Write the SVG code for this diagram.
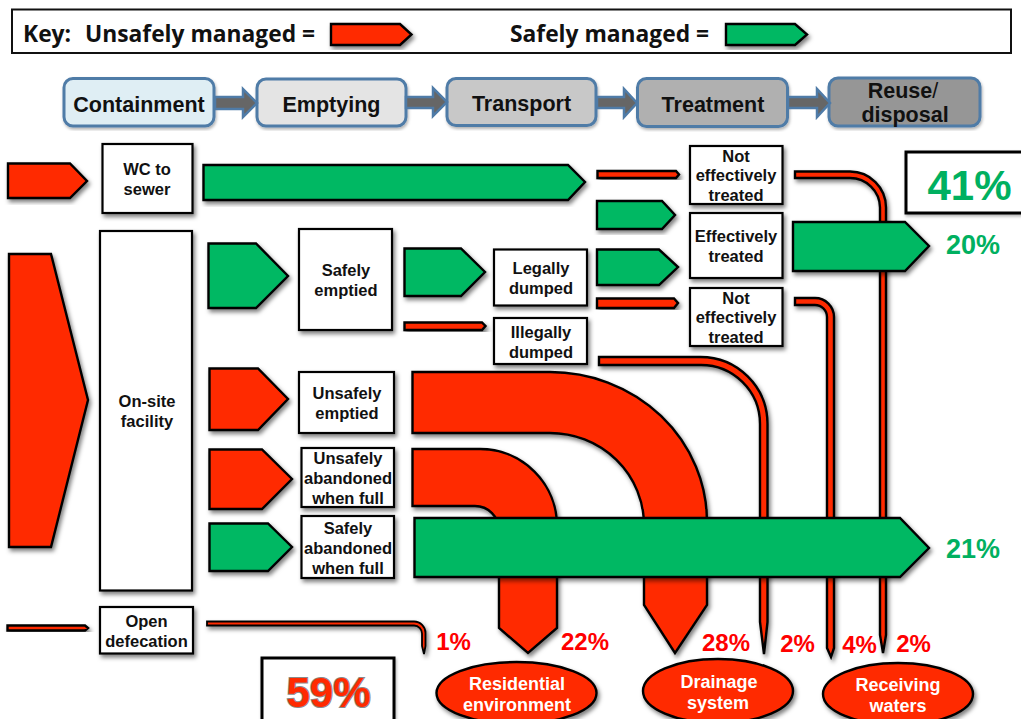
<svg xmlns="http://www.w3.org/2000/svg" width="1021" height="719" viewBox="0 0 1021 719">
<style>
text{font-family:"Liberation Sans",Arial,sans-serif;font-weight:700;text-anchor:middle;fill:#111}
.r{fill:#FF2A00;stroke:#000;stroke-width:2.4;stroke-linejoin:miter;filter:url(#s)}
.g{fill:#00B864;stroke:#000;stroke-width:2.4;filter:url(#s)}
.b{fill:#fff;stroke:#000;stroke-width:2.2;filter:url(#s)}
.b3{fill:#fff;stroke:#000;stroke-width:3;filter:url(#s2)}
.st{stroke:#4F7BA7;stroke-width:3;filter:url(#s2)}
.la{fill:#666;stroke:#4F7BA7;stroke-width:2.5}
.t{font-size:16.5px}
.h{font-size:21.5px}
.k{font-family:"Open Sans","Noto Sans",sans-serif;font-size:22.800px;text-anchor:start;font-weight:700}
.p{font-size:24px;fill:#F00}
.pg{font-size:27px;fill:#00B060}
.e{font-size:18px;fill:#fff}
</style>
<defs>
<filter id="s" x="-20%" y="-20%" width="140%" height="140%"><feDropShadow dx="2" dy="3" stdDeviation="2" flood-color="#000" flood-opacity=".5"/></filter>
<filter id="s2" x="-10%" y="-10%" width="120%" height="120%"><feDropShadow dx="1" dy="2" stdDeviation="1.5" flood-color="#000" flood-opacity=".3"/></filter>
</defs>
<g id="key">
<rect x="12" y="9.500" width="999" height="43.500" fill="#fff" stroke="#111" stroke-width="2"/>
<text class="k" x="23" y="42">Key:</text>
<text class="k" x="85" y="42">Unsafely managed =</text>
<polygon class="r" points="331,24 400,24 411.500,34.500 400,45 331,45"/>
<text class="k" x="510" y="42">Safely managed =</text>
<polygon class="g" points="726,24 795,24 807,34.500 795,45 726,45"/>
</g>
<g id="stages">
<g id="s-containment"><rect class="st" x="64" y="78.500" width="150" height="47.500" rx="9" fill="#DFEEF4"/><text class="h" x="139" y="112">Containment</text></g>
<g id="s-emptying"><rect class="st" x="257" y="79" width="149" height="47" rx="9" fill="#E4E4E4"/><text class="h" x="331.500" y="112">Emptying</text></g>
<g id="s-transport"><rect class="st" x="447" y="78.500" width="149" height="47" rx="9" fill="#C8C8C8"/><text class="h" x="521.500" y="111">Transport</text></g>
<g id="s-treatment"><rect class="st" x="637.500" y="78.500" width="150" height="48" rx="9" fill="#B0B0B0"/><text class="h" x="713" y="112">Treatment</text></g>
<g id="s-reuse"><rect class="st" x="829" y="78" width="151" height="48" rx="9" fill="#969696"/><text class="h" x="903" y="98">Reuse<tspan font-weight="400">/</tspan></text><text class="h" x="905" y="122">disposal</text></g>
</g>
<g id="connectors">
<polygon class="la" points="215,97 243,97 243,89 257,103 243,117 243,109 215,109"/>
<polygon class="la" points="406,97 433,97 433,88 447,102 433,116 433,108 406,108"/>
<polygon class="la" points="597,97 624,97 624,89 637,103 624,117 624,108 597,108"/>
<polygon class="la" points="788,97 817,97 817,89 830,103 817,117 817,108 788,108"/>

<polygon class="r" points="8,163.500 70,163.500 87,181 70,198 8,198"/>
<polygon class="r" points="9,254 51,254 88,400 51,547 9,547"/>
<polygon class="r" points="7.500,625.500 85,625.500 88,628 85,630.500 7.500,630.500"/>
<polygon class="g" points="203.500,165 568,165 585,182 568,200 203.500,200"/>
<polygon class="g" points="208.500,243.500 256,243.500 288,276 256,308 208.500,308"/>
<polygon class="r" points="209.500,368.500 258,368.500 288,399 258,430 209.500,430"/>
<polygon class="r" points="209.500,449.500 262,449.500 292,479 262,509 209.500,509"/>
<polygon class="g" points="209.500,523.500 268,523.500 292,547 268,571 209.500,571"/>
<polygon class="g" points="404.500,248.500 461,248.500 485,272 461,296 404.500,296"/>
<polygon class="r" points="404.500,322.500 482,322.500 485.500,326 482,330 404.500,330"/>
<polygon class="r" points="597.500,171 676,171 679,174.500 676,178 597.500,178"/>
<polygon class="g" points="597,201 662,201 675,215 662,229 597,229"/>
<polygon class="g" points="597,249.500 659,249.500 678,267 659,285 597,285"/>
<polygon class="r" points="597,298.500 674,298.500 678,303 674,308 597,308"/>

<path class="r" style="stroke-width:1.800" d="M207,621.500 H414 A11.500,11.500 0 0 1 425.500,633 V646 L424,654 L422,646 V634 A8,8 0 0 0 414,625.500 H207 Z"/>
<path class="r" d="M795,171.500 H850 A36,36 0 0 1 886,207.500 V635 L883,653 L880,635 V207.500 A30,30 0 0 0 850,178 H795 Z"/>
<path class="r" d="M795,298 H815 A19,19 0 0 1 834,317 V648 L831,657 L827,648 V317 A12,12 0 0 0 815,305 H795 Z"/>
<path class="r" d="M599,357 H700 A67,67 0 0 1 767.500,424 V622 L764,654 L760,622 V424 A59,59 0 0 0 700,365 H599 Z"/>
<path class="r" d="M412.500,372 H550 A157,150 0 0 1 707,522 V605 L675,653 L644,605 V525 A94,92 0 0 0 550,433 H412.500 Z"/>
<path class="r" d="M412.500,449 H480 A77,77 0 0 1 557,526 V628 L528,653 L499,628 V530 A24,24 0 0 0 475,506 H412.500 Z"/>
<polygon class="g" points="793,222 905,222 929,246 905,271 793,271"/>
<polygon class="g" points="414.500,518 900,518 929,548 900,577 414.500,577"/>
</g>
<g id="n-wc"><rect class="b" x="102.500" y="144" width="90" height="69"/><text class="t" x="147" y="175">WC to</text><text class="t" x="147" y="195">sewer</text></g>
<g id="n-onsite"><rect class="b" x="100" y="231" width="92" height="359.500"/><text class="t" x="147" y="407">On-site</text><text class="t" x="147" y="427">facility</text></g>
<g id="n-open"><rect class="b" x="100" y="607" width="93" height="46.500"/><text class="t" x="146.500" y="627">Open</text><text class="t" x="146.500" y="647">defecation</text></g>
<g id="n-safely-emptied"><rect class="b" x="299" y="229" width="93" height="101"/><text class="t" x="346" y="276">Safely</text><text class="t" x="346" y="296">emptied</text></g>
<g id="n-unsafely-emptied"><rect class="b" x="299" y="372" width="95" height="61"/><text class="t" x="347" y="399">Unsafely</text><text class="t" x="347" y="419">emptied</text></g>
<g id="n-unsafely-abandoned"><rect class="b" x="301.500" y="448" width="92.500" height="59"/><text class="t" x="348" y="464">Unsafely</text><text class="t" x="348" y="484">abandoned</text><text class="t" x="348" y="504">when full</text></g>
<g id="n-safely-abandoned"><rect class="b" x="301.500" y="516" width="92.500" height="62"/><text class="t" x="348" y="534">Safely</text><text class="t" x="348" y="554">abandoned</text><text class="t" x="348" y="574">when full</text></g>
<g id="n-legally"><rect class="b" x="494" y="249.500" width="93" height="56"/><text class="t" x="541" y="274">Legally</text><text class="t" x="541" y="294">dumped</text></g>
<g id="n-illegally"><rect class="b" x="494" y="318" width="93" height="46"/><text class="t" x="541" y="338">Illegally</text><text class="t" x="541" y="358">dumped</text></g>
<g id="n-not-1"><rect class="b" x="690" y="146" width="92.500" height="58"/><text class="t" x="736" y="162">Not</text><text class="t" x="736" y="181">effectively</text><text class="t" x="736" y="201">treated</text></g>
<g id="n-eff"><rect class="b" x="690" y="213" width="92.500" height="65"/><text class="t" x="736" y="242">Effectively</text><text class="t" x="736" y="262">treated</text></g>
<g id="n-not-2"><rect class="b" x="690" y="288" width="92.500" height="58"/><text class="t" x="736" y="304">Not</text><text class="t" x="736" y="323">effectively</text><text class="t" x="736" y="343">treated</text></g>
<g id="n-41"><rect class="b3" x="906" y="152" width="120" height="61"/><text x="969.500" y="200" font-size="42" style="fill:#00B060">41%</text></g>
<g id="n-59"><rect class="b3" x="262" y="658" width="132" height="70"/><text x="328.500" y="707" font-size="42" style="fill:#FF2A00;stroke:#8a8a8a;stroke-width:2;paint-order:stroke">59%</text></g>
<g id="n-residential"><ellipse class="r" cx="516.500" cy="693" rx="80" ry="31"/><text class="e" x="517" y="690">Residential</text><text class="e" x="517" y="711">environment</text></g>
<g id="n-drainage"><ellipse class="r" cx="718" cy="691" rx="75" ry="32"/><text class="e" x="719" y="688">Drainage</text><text class="e" x="718" y="709">system</text></g>
<g id="n-receiving"><ellipse class="r" cx="898" cy="694" rx="75" ry="31"/><text class="e" x="898" y="691">Receiving</text><text class="e" x="898" y="712">waters</text></g>
<g id="labels">
<text class="pg" x="973" y="254">20%</text>
<text class="pg" x="973" y="558">21%</text>
<text class="p" x="453.500" y="650">1%</text>
<text class="p" x="585" y="650">22%</text>
<text class="p" x="726" y="651">28%</text>
<text class="p" x="797.500" y="652">2%</text>
<text class="p" x="859.500" y="653">4%</text>
<text class="p" x="913.500" y="652">2%</text>
</g>
</svg>
